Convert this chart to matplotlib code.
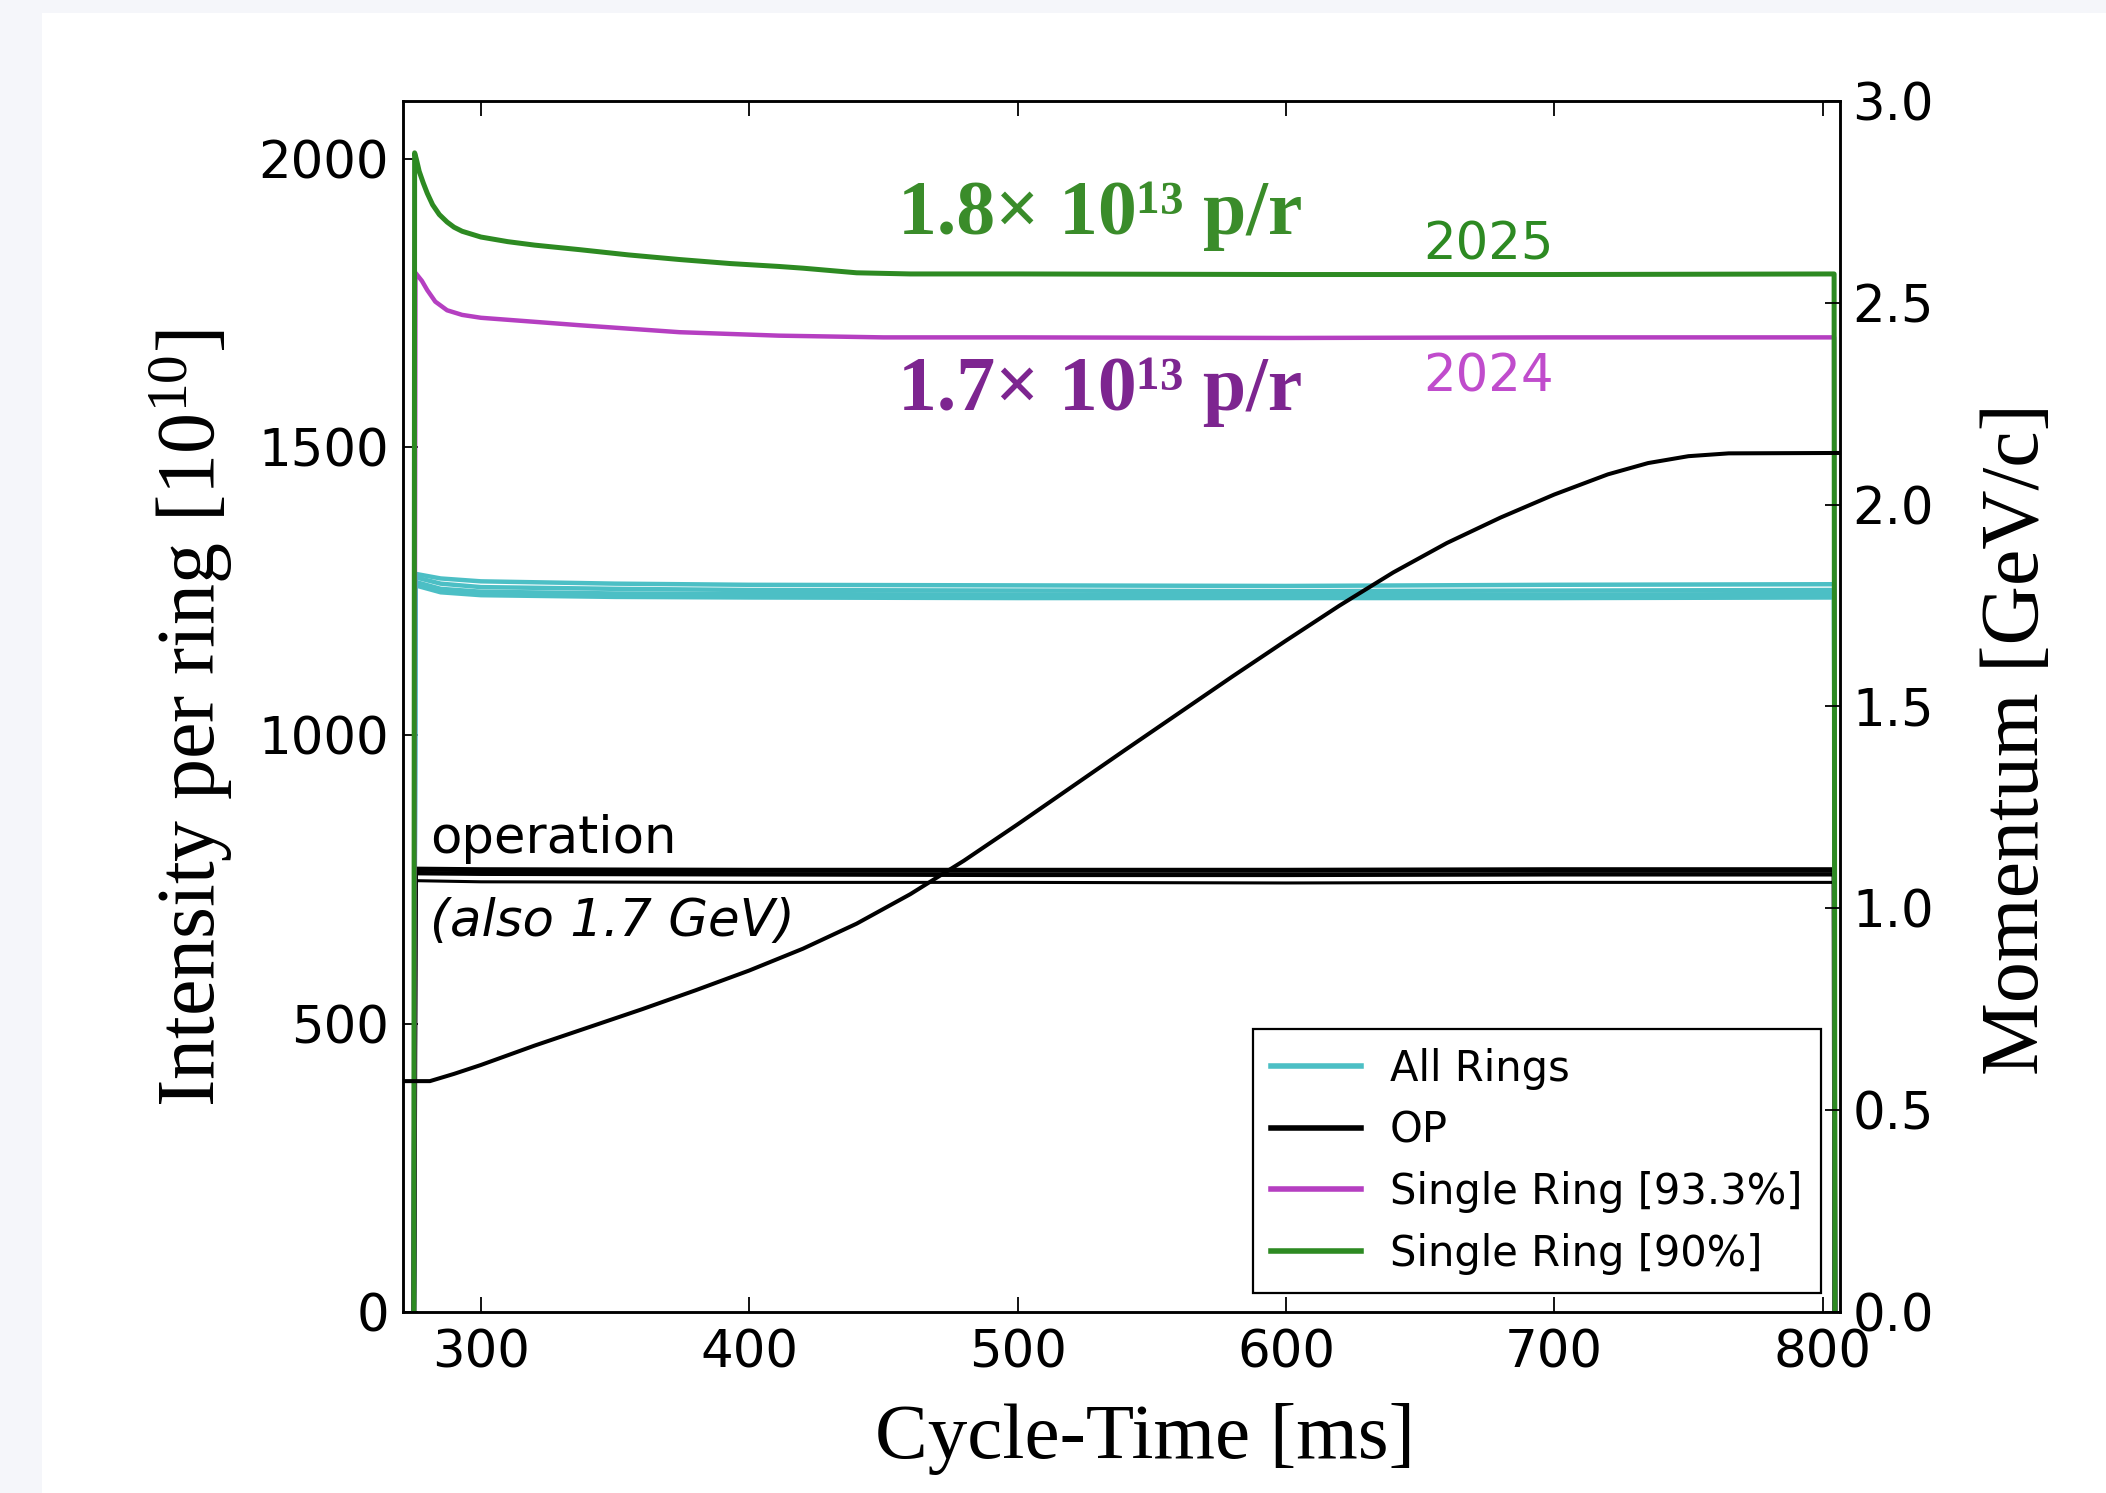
import numpy as np
import matplotlib
matplotlib.use('Agg')
import matplotlib.pyplot as plt
from matplotlib.patches import Rectangle

plt.rcParams['font.family'] = 'DejaVu Sans'
plt.rcParams['mathtext.fontset'] = 'custom'
plt.rcParams['mathtext.rm'] = 'Liberation Serif'
plt.rcParams['mathtext.it'] = 'Liberation Serif:italic'
plt.rcParams['mathtext.bf'] = 'Liberation Serif:bold'

### Data (cycle time [ms], intensity per ring [1e10])
t_green = [275.0, 275.3, 276.0, 277.0, 278.5, 280.0, 282.0, 284.5, 287.4, 290.0, 293.0,
           300.0, 310.0, 320.0, 337.0, 355.0, 374.0, 393.0, 411.0, 420.0, 430.0, 440.0,
           460.0, 500.0, 600.0, 700.0, 804.3, 804.6]
i_green = [0, 2010, 1998, 1978, 1958, 1940, 1920, 1903, 1890, 1881, 1874,
           1864, 1856, 1850, 1842, 1833, 1825, 1818, 1813, 1810, 1806, 1802,
           1800, 1800, 1799, 1799, 1800, 0]

t_magenta = [275.0, 275.6, 278.0, 280.0, 283.0, 287.4, 293.0, 300.0, 320.0, 337.0, 374.0,
             411.0, 450.0, 500.0, 600.0, 700.0, 804.3, 804.6]
i_magenta = [0, 1802, 1788, 1772, 1752, 1737, 1729, 1724, 1717, 1711, 1699,
             1693, 1690, 1690, 1689, 1690, 1690, 0]

# several rings -> a band of lines
t_rings = [275.0, 275.6, 285.0, 300.0, 350.0, 400.0, 500.0, 600.0, 700.0, 804.3, 804.6]
i_ring1 = [0, 1280, 1272, 1267, 1263, 1261, 1260, 1259, 1261, 1262, 0]
i_ring2 = [0, 1274, 1263, 1257, 1254, 1252, 1251, 1250, 1251, 1252, 0]
i_ring3 = [0, 1266, 1254, 1249, 1246, 1245, 1244, 1243, 1244, 1245, 0]
i_ring4 = [0, 1260, 1248, 1243, 1240, 1239, 1238, 1238, 1238, 1239, 0]

t_op = [275.0, 275.6, 300.0, 400.0, 500.0, 600.0, 700.0, 804.3, 804.6]
i_op1 = [0, 768, 767, 766, 766, 766, 767, 767, 0]
i_op2 = [0, 761, 760, 759, 758, 758, 759, 759, 0]
i_op3 = [0, 748, 746, 745, 745, 744, 745, 745, 0]

# momentum ramp [GeV/c]
t_mom = [271, 281, 290, 300, 320, 340, 360, 380, 400, 420, 440, 460, 480, 500, 520,
         540, 560, 580, 600, 620, 640, 660, 680, 700, 720, 735, 750, 765, 806.5]
p_mom = [0.572, 0.572, 0.590, 0.612, 0.660, 0.705, 0.750, 0.797, 0.846, 0.900, 0.962,
         1.035, 1.118, 1.208, 1.300, 1.392, 1.483, 1.574, 1.663, 1.750, 1.832, 1.905,
         1.968, 2.025, 2.075, 2.103, 2.120, 2.127, 2.128]

legend_labels = ['All Rings', 'OP', 'Single Ring [93.3%]', 'Single Ring [90%]']

c_cyan = '#4cbfc5'
c_magenta = '#b53fc1'
c_green = '#2d8a22'

fig = plt.figure(figsize=(21.06, 14.93), dpi=100, facecolor='#f5f6fa')
fig.patches.append(Rectangle((42 / 2106, 0), 1, 1 - 13 / 1493, transform=fig.transFigure,
                             facecolor='white', edgecolor='none', zorder=-1))

ax = fig.add_axes([0.1914, 0.1212, 0.6823, 0.8112])

lw = 3.2
h_ring, = ax.plot(t_rings, i_ring1, color=c_cyan, lw=lw)
ax.plot(t_rings, i_ring2, color=c_cyan, lw=lw)
ax.plot(t_rings, i_ring3, color=c_cyan, lw=lw)
ax.plot(t_rings, i_ring4, color=c_cyan, lw=lw)
h_op, = ax.plot(t_op, i_op1, color='k', lw=lw + 0.4)
ax.plot(t_op, i_op2, color='k', lw=lw)
ax.plot(t_op, i_op3, color='k', lw=2.2)
h_mag, = ax.plot(t_magenta, i_magenta, color=c_magenta, lw=lw)
h_grn, = ax.plot(t_green, i_green, color=c_green, lw=lw + 0.4)

ax.set_xlim(271, 806.5)
ax.set_ylim(0, 2100)
ax.set_xticks([300, 400, 500, 600, 700, 800])
ax.set_yticks([0, 500, 1000, 1500, 2000])
ax.tick_params(axis='both', direction='in', length=11, width=1.3, labelsize=37)
ax.tick_params(axis='x', top=True, pad=12)
ax.tick_params(axis='y', right=False, pad=10)
for s in ax.spines.values():
    s.set_linewidth(1.8)

ax.set_xlabel('Cycle-Time [ms]', family='Liberation Serif', fontsize=57)
ax.xaxis.set_label_coords(0.516, -0.075)
ax.set_ylabel('Intensity per ring [10$^{10}$]', family='Liberation Serif', fontsize=59)
ax.yaxis.set_label_coords(-0.117, 0.49)

# annotations
ax.text(455.5, 1869, '1.8× 10\u00b9\u00b3 p/r', family='Liberation Serif',
        fontweight='bold', fontsize=56, color='#3a8c2a')
ax.text(455.5, 1564, '1.7× 10\u00b9\u00b3 p/r', family='Liberation Serif',
        fontweight='bold', fontsize=56, color='#7d2590')
ax.text(651.2, 1825, '2025', fontsize=37, color=c_green)
ax.text(651.2, 1596, '2024', fontsize=37, color='#c04ccc')
ax.text(281, 796, 'operation', fontsize=37)
ax.text(281, 652, '(also 1.7 GeV)', fontsize=37, style='italic')

leg = ax.legend([h_ring, h_op, h_mag, h_grn], legend_labels, loc='lower right',
                fontsize=30, fancybox=False, framealpha=1, edgecolor='k',
                borderaxespad=0.45, borderpad=0.45, labelspacing=0.47,
                handlelength=2.15, handletextpad=0.7)
leg.get_frame().set_linewidth(1.6)
for l in leg.get_lines():
    l.set_linewidth(4.0)

# momentum on the right axis
ax2 = ax.twinx()
ax2.plot(t_mom, p_mom, color='k', lw=2.9)
ax2.set_ylim(0, 3.0)
ax2.set_yticks([0.0, 0.5, 1.0, 1.5, 2.0, 2.5, 3.0])
ax2.set_yticklabels(['%.1f' % v for v in [0.0, 0.5, 1.0, 1.5, 2.0, 2.5, 3.0]])
ax2.tick_params(axis='y', direction='in', length=11, width=1.3, labelsize=37, pad=9)
ax2.set_ylabel('Momentum [GeV/c]', family='Liberation Serif', fontsize=59)
ax2.yaxis.set_label_coords(1.098, 0.473)
for s in ax2.spines.values():
    s.set_linewidth(1.8)

fig.savefig('out.png', dpi=100, facecolor=fig.get_facecolor())
